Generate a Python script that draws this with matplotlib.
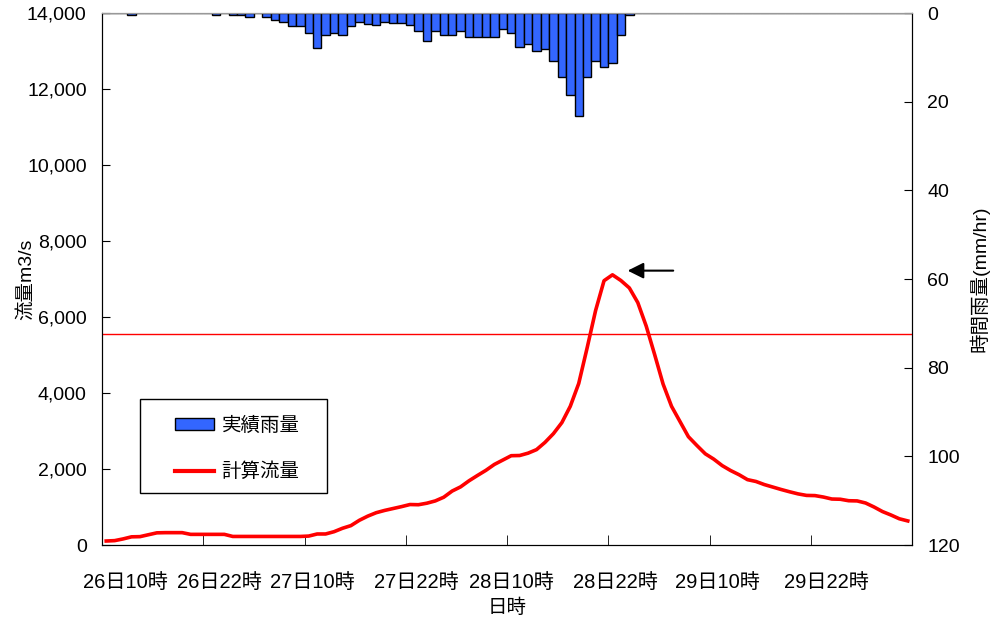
import matplotlib
matplotlib.use("Agg")
import matplotlib.pyplot as plt
import numpy as np
from matplotlib.patches import Patch, Rectangle
from matplotlib.lines import Line2D

plt.rcParams['font.family'] = ['Liberation Sans', 'Noto Sans CJK JP']

# ---- data ----
flow = [105, 115, 160, 215, 220, 270, 320, 325, 325, 325,
        280, 280, 280, 280, 280, 225, 225, 225, 225, 225,
        225, 225, 225, 225, 235, 290, 290, 350, 440, 510,
        650, 760, 850, 910, 960, 1010, 1065, 1060, 1100, 1160,
        1257, 1420, 1530, 1690, 1830, 1965, 2120, 2235, 2350, 2355,
        2417, 2510, 2700, 2930, 3220, 3650, 4250, 5190, 6170, 6955,
        7110, 6960, 6765, 6380, 5760, 5010, 4235, 3650, 3250, 2850,
        2620, 2400, 2260, 2090, 1960, 1850, 1720, 1672, 1590, 1525,
        1460, 1400, 1345, 1305, 1300, 1262, 1210, 1204, 1165, 1160,
        1105, 1000, 880, 790, 690, 633]

rain = [0, 0, 0, 0.5, 0, 0, 0, 0, 0, 0,
        0, 0, 0, 0.5, 0, 0.5, 0.5, 1, 0, 1,
        1.5, 2, 3, 3, 4.5, 8, 5, 4.5, 5, 3,
        2, 2.5, 2.6, 2, 2.3, 2.3, 2.6, 4.1, 6.4, 4.1,
        5, 5, 4.1, 5.5, 5.5, 5.5, 5.5, 3.5, 4.5, 7.7,
        7.1, 8.6, 8.1, 10.8, 14.4, 18.6, 23.2, 14.4, 10.8, 12.2,
        11.3, 4.9, 0.5, 0, 0, 0, 0, 0, 0, 0,
        0, 0, 0, 0, 0, 0, 0, 0, 0, 0,
        0, 0, 0, 0, 0, 0, 0, 0, 0, 0,
        0, 0, 0, 0, 0, 0]

tick_labels = ['26日10時', '26日22時', '27日10時', '27日22時',
               '28日10時', '28日22時', '29日10時', '29日22時']
label_offsets = [2.3, 1.4, 0.4, 0.8, 0.0, 0.3, 0.4, 1.4]
threshold = 5560
peak_marker_y = 7220

x = np.arange(len(flow))

fig = plt.figure(figsize=(9.94, 6.19), dpi=100)
ax = fig.add_axes([102/994, 1-545/619, 810/994, 532/619])
ax2 = ax.twinx()

FS = 14

# rain bars on secondary axis (inverted)
ax2.bar(x, rain, width=1.0, color='#3366FF', edgecolor='black', linewidth=1.0, zorder=2)
ax2.set_ylim(120, 0)
ax2.set_yticks(np.arange(0, 121, 20))
ax2.tick_params(axis='y', direction='in', length=6, labelsize=FS, pad=11)
ax2.set_ylabel('時間雨量(mm/hr)', fontsize=FS)
ax2.yaxis.set_label_coords(1.071, 0.5)

# flow on primary axis
ax.set_zorder(ax2.get_zorder() + 1)
ax.patch.set_visible(False)
ax.plot(x, flow, color='#FF0000', linewidth=2.6, zorder=3)
ax.axhline(threshold, color='#FF0000', linewidth=1.0, zorder=2)
ax.set_ylim(0, 14000)
ax.set_xlim(-0.5, len(flow) - 0.5)
ax.set_yticks(np.arange(0, 14001, 2000))
ax.yaxis.set_major_formatter(matplotlib.ticker.FuncFormatter(lambda v, p: f'{int(v):,}'))
ax.tick_params(axis='y', direction='in', length=6, labelsize=FS, pad=11)
ax.set_ylabel('流量m3/s', fontsize=FS)
ax.yaxis.set_label_coords(-0.083, 0.5)

# x axis
major = np.arange(0, len(flow), 12) + np.array(label_offsets)
ax.set_xticks(major)
ax.set_xticklabels(tick_labels, fontsize=14.5)
ax.set_xticks(np.arange(12, len(flow), 12) - 0.5, minor=True)
ax.tick_params(axis='x', which='major', length=0, pad=20)
ax.tick_params(axis='x', which='minor', direction='in', length=7)
ax.set_xlabel('日時', fontsize=FS)
ax.xaxis.set_label_coords(0.5, -0.10)

for a in (ax, ax2):
    a.spines['top'].set_color('#999999')
    a.spines['left'].set_color('black')
    a.spines['right'].set_color('black')
    a.spines['bottom'].set_color('black')

# arrow
ax.annotate('', xy=(x[60] + 1.8, peak_marker_y), xytext=(x[60] + 7.2, peak_marker_y),
            arrowprops=dict(arrowstyle='-|>', color='black', lw=1.5,
                            mutation_scale=24, shrinkA=0, shrinkB=0), zorder=5)

# legend box (frame drawn separately, as in the reference)
ax.add_patch(Rectangle((140/994, 1-493/619), 187/994, 94/619,
                       transform=fig.transFigure, facecolor='white',
                       edgecolor='black', linewidth=1.0, zorder=4, clip_on=False))
handles = [Patch(facecolor='#3366FF', edgecolor='black', linewidth=1.0),
           Line2D([0], [0], color='#FF0000', linewidth=3.0)]
leg = ax.legend(handles, ['実績雨量', '計算流量'], loc='upper left',
                bbox_to_anchor=(175/994, 1-417/619), bbox_transform=fig.transFigure,
                fontsize=FS, frameon=False, handlelength=2.0, handleheight=0.55,
                labelspacing=1.4, borderpad=0, handletextpad=0.4, borderaxespad=0)
leg.set_zorder(6)

fig.savefig('out.png', dpi=100)
